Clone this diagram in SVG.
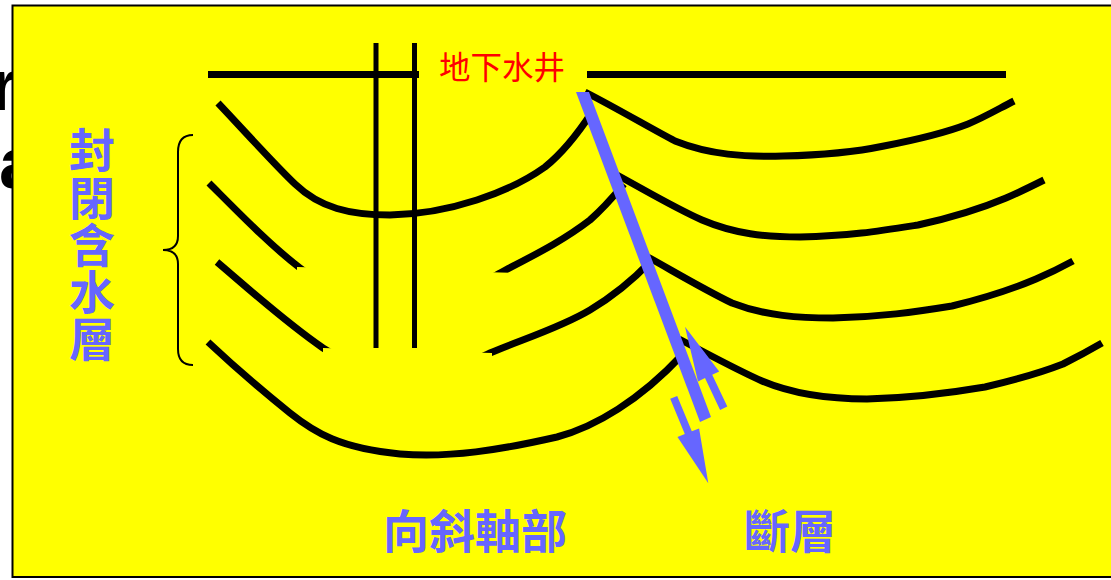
<svg xmlns="http://www.w3.org/2000/svg" width="1111" height="580" viewBox="0 0 1111 580">
  <style>
    .layer { fill: none; stroke: #000; stroke-width: 7; stroke-linecap: butt; stroke-linejoin: round; }
    .pipe { stroke: #000; stroke-width: 5; }
    .blue { fill: #6666FF; }
    .lbl { font-family: "Noto Sans CJK TC", "Noto Sans CJK SC", sans-serif; fill: #6666FF; font-weight: bold; font-size: 46px; }
    .red { font-family: "Noto Sans CJK TC", "Noto Sans CJK SC", sans-serif; fill: #FF0000; font-size: 31.5px; }
    .mask { fill: #FFFF00; }
  </style>

  <!-- heading letters left of the panel, mostly covered by it -->
  <g id="edge-text" font-family="Liberation Sans, sans-serif" font-weight="bold" font-size="72" fill="#000">
    <text x="-10" y="110">r</text>
    <text x="-1" y="188">a</text>
  </g>

  <!-- panel -->
  <rect id="panel" x="12.5" y="5.5" width="1110" height="571.5" fill="#FFFF00" stroke="#000" stroke-width="2"/>

  <!-- rock layers -->
  <g id="layers">
    <path class="layer" d="M218,103 C250,137 275,165 295,184 C320,208 350,215 390,215 C450,214 510,192 545,167 C560,155 575,138 592,112"/>
    <path class="layer" d="M209,183 C240,214 270,245 300,268 C330,292 370,302 410,302 C445,302 475,288 500,273 C530,257 560,243 590,220 C605,207 614,196 624,184"/>
    <path class="layer" d="M217,262 C250,290 285,322 323,348 C360,372 390,380 420,380 C445,380 470,362 490,353 C520,340 560,328 590,310 C610,298 628,285 650,262"/>
    <path class="layer" d="M208,342 C240,372 265,393 290,413 C315,433 340,448 400,454 C450,458 500,450 557,437 C595,427 640,400 682,355"/>
    <path class="layer" d="M585,92 C620,110 650,128 675,141 C710,155 745,157 783,156 C830,155 860,151 884,146 C915,140 945,133 968,124 C985,117 1000,108 1014,101"/>
    <path class="layer" d="M617,175 C650,193 675,208 702,220 C735,234 765,237 800,237 C850,236 880,231 918,225 C950,218 980,209 1006,198 C1020,192 1032,186 1044,180"/>
    <path class="layer" d="M646,256 C680,275 705,290 732,303 C765,316 800,318 833,318 C880,317 915,312 952,306 C985,298 1010,290 1036,279 C1050,273 1062,267 1073,261"/>
    <path class="layer" d="M679,339 C710,355 735,369 762,381 C795,395 830,399 867,399 C910,398 950,393 985,387 C1015,380 1040,373 1063,364 C1077,357 1090,350 1102,343"/>
  </g>

  <!-- cover over the syncline centre -->
  <polygon id="cover-upper" class="mask" points="297,267 522,273 522,312 297,312"/>

  <!-- ground surface and well -->
  <g id="ground">
    <line x1="208" y1="74.5" x2="419" y2="74.5" stroke="#000" stroke-width="7"/>
    <line x1="587" y1="74.5" x2="1006" y2="74.5" stroke="#000" stroke-width="7"/>
  </g>
  <g id="well">
    <line class="pipe" x1="376" y1="43" x2="376" y2="348"/>
    <line class="pipe" x1="414.5" y1="43" x2="414.5" y2="348"/>
  </g>

  <polygon id="cover-lower" class="mask" points="323,348 492,353 492,400 323,400"/>

  <!-- fault and slip arrows -->
  <g id="fault">
    <polygon class="blue" points="576,92 589,92 711,417 700,422"/>
    <polygon class="blue" points="670.2,398.7 677.2,395.9 691.8,431.3 699.1,428.4 708.3,483.3 677.5,437 684.8,434.1"/>
    <polygon class="blue" points="720.1,410 705,378.1 698,381.4 685,326.7 719.2,371.4 712.2,374.7 727.3,406.6"/>
  </g>

  <!-- brace -->
  <path id="brace" d="M193,135 C183,135 178,140 178,152 L178,236 C178,245 173,250 163,250 C173,250 178,255 178,264 L178,349 C178,360 183,365 193,365" fill="none" stroke="#000" stroke-width="2"/>

  <!-- labels -->
  <g id="label-well"><text class="red" x="439" y="78.5">地下水井</text></g>
  <g id="label-aquifer">
    <text class="lbl" x="92" y="127" writing-mode="vertical-rl" letter-spacing="1.2">封閉含水層</text>
  </g>
  <g id="label-syncline"><text class="lbl" x="383" y="548">向斜軸部</text></g>
  <g id="label-fault"><text class="lbl" x="744" y="548">斷層</text></g>
</svg>
